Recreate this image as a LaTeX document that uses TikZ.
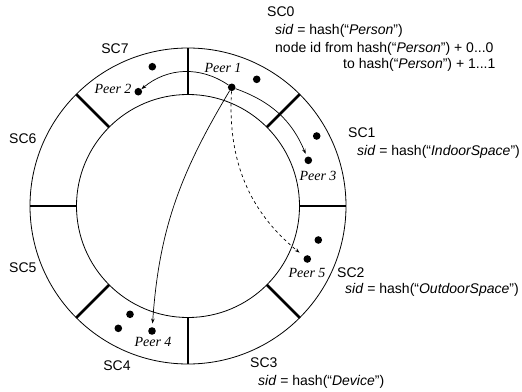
\documentclass[tikz,border=0pt]{standalone}
\usepackage{fontspec}
\setmainfont{Liberation Sans}
\newfontfamily\peerfont{Liberation Serif}
\usetikzlibrary{arrows.meta}
\begin{document}
\begin{tikzpicture}[x=1pt,y=-1pt,
  lbl/.style={anchor=base west,inner sep=0pt,font=\fontsize{14}{16}\selectfont},
  clbl/.style={anchor=base,inner sep=0pt,font=\fontsize{14}{16}\selectfont},
  peerlbl/.style={inner sep=0pt,font=\peerfont\itshape\fontsize{14}{16}\selectfont},
  dot/.style={circle,fill=black,inner sep=0pt,minimum size=7.6pt},
  ring/.style={line width=0.8pt},
  bar/.style={line width=2.6pt},
  arr/.style={line width=0.7pt,-{Stealth[length=5pt,width=3.5pt]}}]
\path[use as bounding box] (0,0) rectangle (522,391);
\coordinate (C) at (188,206);
% rings
\draw[ring] (C) circle[radius=111.5pt];
\draw[ring] (C) circle[radius=158pt];
% bars
\foreach \a in {0,45,...,315}
  \draw[bar] (C) ++(\a:111.5pt) -- ++(\a:46.5pt);
% dots
\node[dot] (p1) at (231.7,87.3) {};
\node[dot] (p2) at (138.3,91.7) {};
\node[dot] (p3) at (308.3,160.3) {};
\node[dot] (p4) at (152,331) {};
\node[dot] (p5) at (307.3,259) {};
\node[dot] (d1) at (152.3,66.7) {};
\node[dot] (d2) at (256.7,79.3) {};
\node[dot] (d3) at (316.7,136) {};
\node[dot] (d4) at (318.3,240) {};
\node[dot] (d5) at (130,314.3) {};
\node[dot] (d6) at (118.3,328.3) {};
% peer labels
\node[peerlbl] (l1) at (223,68) {Peer 1};
\node[peerlbl] (l2) at (113,89) {Peer 2};
\node[peerlbl] (l3) at (318,176) {Peer 3};
\node[peerlbl] (l4) at (153,342) {Peer 4};
\node[peerlbl] (l5) at (307,273) {Peer 5};
% connectors
\draw[arr] (p1) to[bend right=37] (p2);
\draw[arr,shorten >=3pt] (p1) to[bend left=24] (p3);
\draw[arr,shorten >=3.5pt] (p1) to[out=-121,in=86] (p4);
\draw[arr,dashed,shorten >=6pt] (p1) to[bend right=27] (p5);
% SC labels
\node[lbl] (sc0) at (267,16) {SC0};
\node[lbl] (sc0a) at (275,34) {\textit{sid} = hash(“\textit{Person}”)};
\node[lbl] (sc0b) at (275,52) {node id from hash(“\textit{Person}”) + 0...0};
\node[lbl] (sc0c) at (343,68) {to hash(“\textit{Person}”) + 1...1};
\node[clbl] (sc7) at (115,53) {SC7};
\node[lbl] (sc6) at (9,143) {SC6};
\node[lbl] (sc1) at (348,137) {SC1};
\node[lbl] (sc1a) at (357,155) {\textit{sid} = hash(“\textit{IndoorSpace}”)};
\node[lbl] (sc5) at (9,272) {SC5};
\node[lbl] (sc2) at (337,277) {SC2};
\node[lbl] (sc2a) at (345,293) {\textit{sid} = hash(“\textit{OutdoorSpace}”)};
\node[clbl] (sc4) at (117,370) {SC4};
\node[lbl] (sc3) at (250,367) {SC3};
\node[lbl] (sc3a) at (258,385) {\textit{sid} = hash(“\textit{Device}”)};
\end{tikzpicture}
\end{document}
